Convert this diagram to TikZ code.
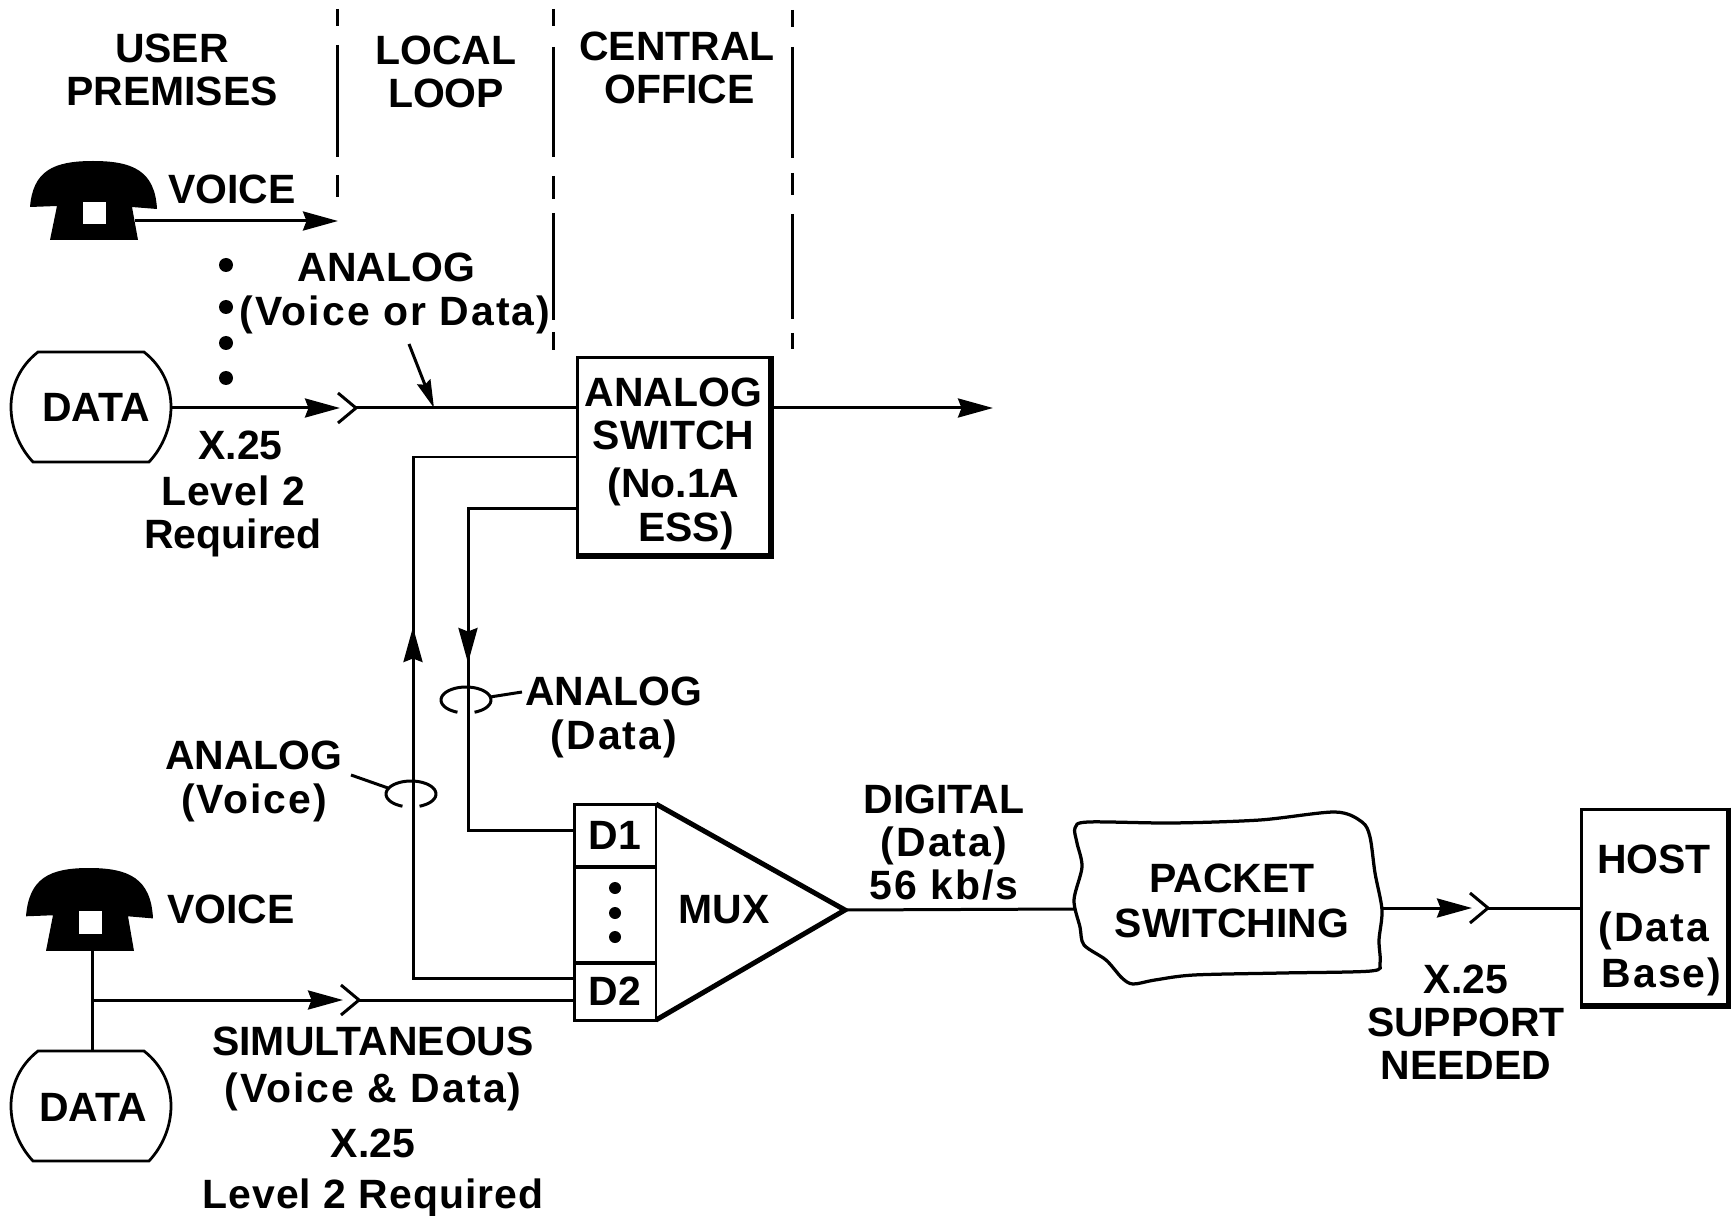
\documentclass[tikz,border=0pt]{standalone}
\usepackage{fontspec}
\setmainfont{Liberation Sans}
\usetikzlibrary{arrows.meta}
\newcommand{\wide}{\addfontfeature{LetterSpace=5}}
\newcommand{\semiwide}{\addfontfeature{LetterSpace=2.5}}
\tikzset{
	lbl/.style={font=\fontsize{23.3}{24.5}\selectfont\bfseries, align=center, inner sep=0pt},
	wire/.style={line width=0.06cm},
	sig/.style={wire, -{Stealth[length=0.7cm,width=0.38cm,inset=0.07cm]}},
	sigsmall/.style={wire, -{Stealth[length=0.56cm,width=0.28cm,inset=0.06cm]}},
	cell/.style={lbl, draw, line width=0.06cm, minimum width=1.64cm},
	phone/.pic={
		\fill (-63,46) .. controls (-60,10) and (-40,0) .. (0,0) .. controls (40,0) and (62,10) .. (64,48) -- (39,46) -- (45,79) -- (-43,79) -- (-36,45) -- cycle;
		\fill[white] (-10,41) rectangle (13,63);
	},
	drum/.pic={
		\draw[line width=0.055cm] (-53,-55) -- (53,-55) .. controls (72,-40) and (80,-20) .. (80,0) .. controls (80,20) and (72,40) .. (58,55) -- (-58,55) .. controls (-72,40) and (-80,20) .. (-80,0) .. controls (-80,-20) and (-72,-40) .. (-53,-55) -- cycle;
	}
}
\begin{document}
\begin{tikzpicture}[x=0.02cm,y=-0.02cm]
	\useasboundingbox (0,0) rectangle (1731,1216);
	% column borders
	\foreach \x/\ya/\yb in {337/9/26,337/45/157,337/175/197,
		553/9/26,553/47/157,553/176/199,553/213/320,553/332/350,
		792/10/27,792/47/158,792/173/195,792/214/319,792/333/349}{
		\draw[line width=0.06cm] (\x,\ya) -- (\x,\yb);
	}
	% column titles
	\node[lbl] (tuser) at (172,70) {USER\\PREMISES};
	\node[lbl] (tloop) at (446,72) {LOCAL\\LOOP};
	\node[lbl] (toffice) at (677,68) {CENTRAL\\\hspace*{0.1cm}OFFICE};
	% upper user premises
	\pic at (93,161) {phone};
	\pic at (91,407) {drum};
	\node[lbl] (voicea) at (232,189) {VOICE};
	\node[lbl] (dataa) at (96,407) {DATA};
	\node[lbl] (xa) at (233,494) {\hspace*{0.3cm}X.25\\[0.05cm]{\semiwide Level 2}\\Required};
	\foreach \y in {265,307,343,378}{
		\fill (226,\y) circle (7);
	}
	\coordinate (phoneao) at (135,221);
	\coordinate (voiceaend) at (338,221);
	\draw[sig] (phoneao) -- (voiceaend);
	% chevrons on the lines
	\foreach \n/\x/\y in {a/356/408,b/359/1000,c/1488/908}{
		\coordinate (chev\n) at (\x,\y);
		\coordinate (tip\n) at (\x-16,\y);
		\draw[wire] (\x-18,\y-15) -- (chev\n) -- (\x-18,\y+15);
	}
	% analog switch
	\node[cell, minimum width=3.86cm, minimum height=3.94cm] (switch) at (673.5,456) {\rule{0pt}{0.88cm}ANALOG\\SWITCH\\[0.1cm](No.1A\hspace*{0.8cm}\\[0.02cm]\hspace*{0.5cm}ESS)};
	\draw[line width=0.11cm] (switch.north east) -- (switch.south east) -- (switch.south west);
	\coordinate (dataae) at (171,408);
	\coordinate (swin) at (576,408);
	\coordinate (swout) at (771,408);
	\coordinate (swend) at (993,408);
	\draw[sig] (dataae) -- (tipa);
	\draw[wire] (cheva) -- (swin);
	\draw[sig] (swout) -- (swend);
	\node[lbl] (analoga) at (395,293) {ANALOG\hspace*{0.35cm}\\[0.02cm]{\wide (Voice or Data)}};
	\coordinate (ptra) at (409,344);
	\coordinate (ptrb) at (434,408);
	\draw[sigsmall] (ptra) -- (ptrb);
	% mux
	\node[cell, minimum height=1.26cm] (done) at (615,835.5) {D1};
	\node[cell, minimum height=1.92cm] (dmid) at (615,915) {};
	\node[cell, minimum height=1.14cm] (dtwo) at (615,991.5) {D2};
	\foreach \y in {888,913,937}{
		\fill (615,\y) circle (6);
	}
	\coordinate (muxtop) at (656,804);
	\coordinate (muxtip) at (845,910);
	\coordinate (muxbot) at (656,1020);
	\draw[line width=0.1cm, line join=miter] (muxtop) -- (muxtip) -- (muxbot);
	\node[lbl] (mux) at (724,910) {MUX};
	% return lines between switch and mux
	\coordinate (swa) at (576,457);
	\coordinate (cora) at (413,457);
	\coordinate (corb) at (413,978);
	\coordinate (dtwoa) at (574,978);
	\coordinate (upa) at (413,627);
	\draw[wire] (swa) -- (cora) -- (corb) -- (dtwoa);
	\draw[sig] (corb) -- (upa);
	\coordinate (swb) at (576,508);
	\coordinate (corc) at (468,508);
	\coordinate (cord) at (468,830);
	\coordinate (donea) at (574,830);
	\coordinate (downa) at (468,663);
	\draw[wire] (swb) -- (corc) -- (cord) -- (donea);
	\draw[sig] (corc) -- (downa);
	% rings round the lines
	\coordinate (ringa) at (466,700);
	\coordinate (ringb) at (411,794);
	\foreach \r in {ringa,ringb}{
		\draw[wire,shift={(\r)},domain=110:430,samples=40,smooth] plot ({25*cos(\x)},{13*sin(\x)});
	}
	\node[lbl] (analogb) at (614,717) {ANALOG\\[0.02cm]{\wide (Data)}};
	\node[lbl] (analogc) at (254,781) {ANALOG\\[0.02cm]{\wide (Voice)}};
	\coordinate (ptrc) at (490,697);
	\coordinate (ptrd) at (522,692);
	\coordinate (ptre) at (351,775);
	\coordinate (ptrf) at (388,788);
	\draw[wire] (ptrc) -- (ptrd);
	\draw[wire] (ptre) -- (ptrf);
	% lower user premises
	\pic[yscale=1.05] at (89,868) {phone};
	\pic at (91,1106) {drum};
	\node[lbl] (voiceb) at (231,909) {VOICE};
	\node[lbl] (datab) at (93,1107) {DATA};
	\coordinate (phonebo) at (92,951);
	\coordinate (databt) at (92,1051);
	\coordinate (junc) at (92,1000);
	\coordinate (dtwob) at (574,1000);
	\draw[wire] (phonebo) -- (databt);
	\draw[sig] (junc) -- (tipb);
	\draw[wire] (chevb) -- (dtwob);
	\node[lbl] (simul) at (373,1069) {SIMULTANEOUS\\[0.08cm]{\wide (Voice \& Data)}};
	\node[lbl] (xb) at (373,1173) {X.25\\[0.15cm]{\semiwide Level 2 Required}};
	% right part
	\node[lbl] (digital) at (944,843) {DIGITAL\\{\wide (Data)}\\{\wide 56 kb/s}};
	\draw[line width=0.065cm] plot[smooth cycle,tension=0.5] coordinates {(1075,828) (1088,822) (1172,823) (1260,820) (1335,812) (1362,822) (1370,837) (1375,873) (1382,910) (1379,940) (1380,963) (1371,971) (1282,973) (1194,975) (1155,980) (1133,984) (1122,978) (1106,960) (1084,945) (1080,927) (1074,900) (1082,867) (1077,843)};
	\node[lbl] (packet) at (1232,901) {PACKET\\[0.03cm]SWITCHING};
	\coordinate (cloudw) at (1074,909);
	\coordinate (cloude) at (1382,908);
	\draw[wire] (muxtip) -- (cloudw);
	\node[cell, minimum width=2.92cm, minimum height=3.92cm] (host) at (1654,907) {\rule{0pt}{1.1cm}HOST\\[0.5cm]{\wide (Data}\hspace*{0.35cm}\\[0.05cm]{\hspace*{0.3cm}\wide Base)}};
	\draw[line width=0.11cm] (host.north east) -- (host.south east) -- (host.south west);
	\coordinate (hostw) at (1581,908);
	\draw[sig] (cloude) -- (tipc);
	\draw[wire] (chevc) -- (hostw);
	\node[lbl] (xc) at (1466,1022) {X.25\\SUPPORT\\NEEDED};
\end{tikzpicture}
\end{document}
